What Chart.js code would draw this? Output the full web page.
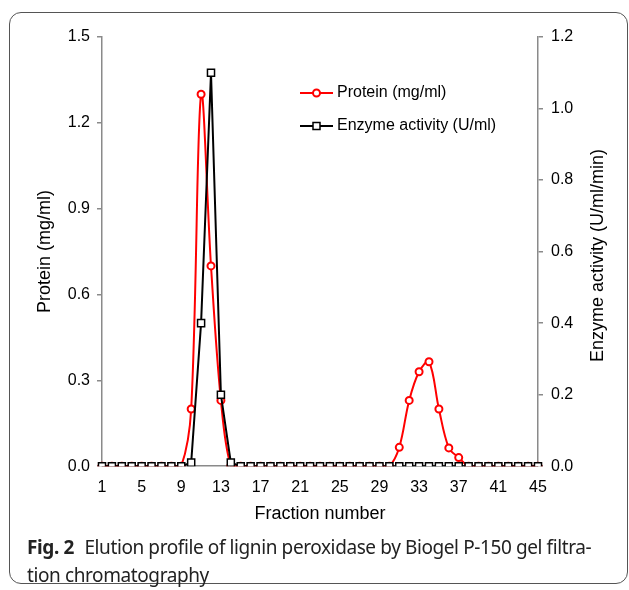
<!DOCTYPE html>
<html>
<head>
<meta charset="utf-8">
<script src="https://cdn.jsdelivr.net/npm/chart.js@4"></script>
<style>
  html, body { margin: 0; padding: 0; background: #fff; }
  #wrap { position: relative; width: 629px; height: 590px; overflow: hidden; }
  #frame {
    position: absolute; left: 9px; top: 12px; width: 619px; height: 572px;
    border: 1px solid #555; border-radius: 12px; box-sizing: border-box;
  }
  #chartBox { position: absolute; left: 0; top: 0; width: 629px; height: 590px; }
  #caption {
    position: absolute; left: 27px; top: 533px; width: 600px;
    font-family: "Noto Sans", sans-serif; font-size: 19px; line-height: 28px;
    color: #222; letter-spacing: -0.4px; white-space: nowrap;
  }
  #caption b { font-weight: bold; margin-right: 6px; }
</style>
</head>
<body>
<div id="wrap">
  <div id="frame"></div>
  <div id="chartBox"><canvas id="elution"></canvas></div>
  <div id="caption"><b>Fig. 2</b> Elution profile of lignin peroxidase by Biogel P-150 gel filtra-<br>tion chromatography</div>
</div>
<script>
// Fraction numbers (x categories)
const fractions = ["1","2","3","4","5","6","7","8","9","10","11","12","13","14","15",
  "16","17","18","19","20","21","22","23","24","25","26","27","28","29","30",
  "31","32","33","34","35","36","37","38","39","40","41","42","43","44","45"];

// Protein (mg/ml), left axis
const protein = [0,0,0,0,0,0,0,0,0,0.2,1.3,0.7,0.23,0,0,
  0,0,0,0,0,0,0,0,0,0,0,0,0,0,0,
  0.066,0.23,0.33,0.365,0.2,0.064,0.03,0,0,0,0,0,0,0,0];

// Enzyme activity (U/ml), right axis
const enzyme = [0,0,0,0,0,0,0,0,0,0.01,0.4,1.1,0.2,0.01,0,
  0,0,0,0,0,0,0,0,0,0,0,0,0,0,0,
  0,0,0,0,0,0,0,0,0,0,0,0,0,0,0];

const proteinTicks = [0, 0.3, 0.6, 0.9, 1.2, 1.5];
const enzymeTicks = [0, 0.2, 0.4, 0.6, 0.8, 1.0, 1.2];
const labelEvery = 4;

const axisGray = "#8a8a8a";
const fontFamily = "'Liberation Sans', Arial, sans-serif";

// legend drawn inside the plot, plus the right axis title (reads bottom to top)
const extras = {
  id: "extras",
  afterDraw(chart) {
    const ctx = chart.ctx;
    const area = chart.chartArea;
    ctx.save();
    const items = [
      { text: "Protein (mg/ml)", color: "#ff0000", style: "circle" },
      { text: "Enzyme activity (U/ml)", color: "#000000", style: "rect" }
    ];
    const lx = area.left + 198;
    let ly = area.top + 56;
    ctx.font = "16px " + fontFamily;
    ctx.textBaseline = "middle";
    items.forEach(function (it) {
      ctx.strokeStyle = it.color;
      ctx.lineWidth = 2;
      ctx.beginPath();
      ctx.moveTo(lx, ly);
      ctx.lineTo(lx + 33, ly);
      ctx.stroke();
      ctx.fillStyle = "#fff";
      ctx.beginPath();
      if (it.style === "circle") {
        ctx.arc(lx + 16.5, ly, 3.5, 0, Math.PI * 2);
        ctx.lineWidth = 2;
      } else {
        ctx.rect(lx + 13, ly - 3.5, 7, 7);
        ctx.lineWidth = 1.5;
      }
      ctx.fill();
      ctx.stroke();
      ctx.fillStyle = "#000";
      ctx.fillText(it.text, lx + 37, ly);
      ly += 33;
    });
    // right axis title
    ctx.translate(598, (area.top + area.bottom) / 2 + 4);
    ctx.rotate(-Math.PI / 2);
    ctx.font = "18px " + fontFamily;
    ctx.textAlign = "center";
    ctx.fillText("Enzyme activity (U/ml/min)", 0, 0);
    ctx.restore();
  }
};

new Chart(document.getElementById("elution"), {
  type: "line",
  data: {
    labels: fractions,
    datasets: [
      {
        label: "Protein (mg/ml)",
        data: protein,
        yAxisID: "y",
        borderColor: "#ff0000",
        borderWidth: 2,
        backgroundColor: "#ffffff",
        pointStyle: "circle",
        pointRadius: 3.5,
        pointBorderWidth: 2,
        tension: 0.35,
        order: 1
      },
      {
        label: "Enzyme activity (U/ml)",
        data: enzyme,
        yAxisID: "y1",
        borderColor: "#000000",
        borderWidth: 2,
        backgroundColor: "#ffffff",
        pointStyle: "rect",
        pointRadius: 5,
        pointBorderWidth: 1.5,
        tension: 0,
        order: 0
      }
    ]
  },
  options: {
    responsive: true,
    maintainAspectRatio: false,
    animation: false,
    layout: { padding: { top: 37, left: 0, right: 0, bottom: 65 } },
    plugins: {
      legend: { display: false },
      tooltip: { enabled: false }
    },
    scales: {
      x: {
        grid: { display: false, tickLength: 10 },
        border: { display: true, color: axisGray, width: 1.5 },
        ticks: {
          autoSkip: false,
          maxRotation: 0,
          padding: 2,
          color: "#000",
          font: { family: fontFamily, size: 16 },
          callback: function (v, i) { return i % labelEvery === 0 ? fractions[i] : ""; }
        },
        title: {
          display: true,
          text: "Fraction number",
          color: "#000",
          font: { family: fontFamily, size: 18 },
          padding: { top: 4, bottom: 0 }
        }
      },
      y: {
        position: "left",
        min: proteinTicks[0],
        max: proteinTicks[proteinTicks.length - 1],
        afterBuildTicks: function (s) { s.ticks = proteinTicks.map(function (v) { return { value: v }; }); },
        afterFit: function (s) { s.width = 102; },
        grid: { display: true, drawOnChartArea: false, color: axisGray, lineWidth: 1.5, tickLength: 5 },
        border: { display: true, color: axisGray, width: 1.5 },
        ticks: {
          padding: 7,
          color: "#000",
          font: { family: fontFamily, size: 16 },
          callback: function (v) { return Number(v).toFixed(1); }
        },
        title: {
          display: true,
          text: "Protein (mg/ml)",
          color: "#000",
          font: { family: fontFamily, size: 18 },
          padding: { top: 34, bottom: 0 }
        }
      },
      y1: {
        position: "right",
        min: enzymeTicks[0],
        max: enzymeTicks[enzymeTicks.length - 1],
        afterBuildTicks: function (s) { s.ticks = enzymeTicks.map(function (v) { return { value: v }; }); },
        afterFit: function (s) { s.width = 91; },
        grid: { display: true, drawOnChartArea: false, color: axisGray, lineWidth: 1.5, tickLength: 5 },
        border: { display: true, color: axisGray, width: 1.5 },
        ticks: {
          padding: 8,
          color: "#000",
          font: { family: fontFamily, size: 16 },
          callback: function (v) { return Number(v).toFixed(1); }
        }
      }
    }
  },
  plugins: [extras]
});
</script>
</body>
</html>
